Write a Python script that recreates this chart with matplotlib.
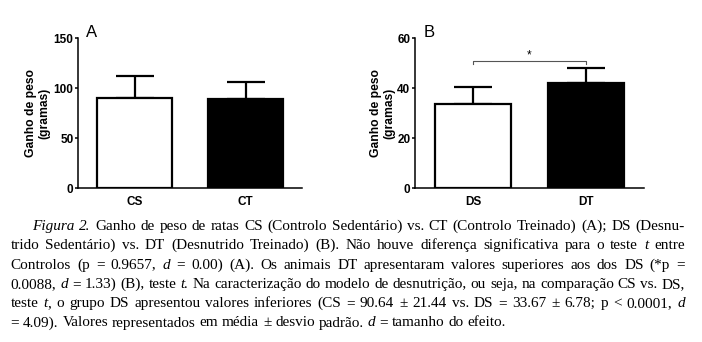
import matplotlib
matplotlib.use('Agg')
import matplotlib.pyplot as plt

W, H = 702, 342
SANS = 'Liberation Sans'
SERIF = 'Liberation Serif'
plt.rcParams['font.family'] = SANS

# data
groups_a = ["CS", "CT"]
mean_a = [90.64, 89.7]
sd_a = [21.44, 16.5]
yticks_a = [0, 50, 100, 150]

groups_b = ["DS", "DT"]
mean_b = [33.67, 42.1]
sd_b = [6.78, 6.2]
yticks_b = [0, 20, 40, 60]
signif_y = 50.9   # bracket level DS vs DT

bar_colors = ["white", "black"]
ylabel = "Ganho de peso\n(gramas)"

# _text_ = italic
caption_lines = [
    "_Figura_ _2._ Ganho de peso de ratas CS (Controlo Sedentário) vs. CT (Controlo Treinado) (A); DS (Desnu-",
    "trido Sedentário) vs. DT (Desnutrido Treinado) (B). Não houve diferença significativa para o teste _t_ entre",
    "Controlos (p = 0.9657, _d_ = 0.00) (A). Os animais DT apresentaram valores superiores aos dos DS (*p =",
    "0.0088, _d_ = 1.33) (B), teste _t._ Na caracterização do modelo de desnutrição, ou seja, na comparação CS vs. DS,",
    "teste _t_, o grupo DS apresentou valores inferiores (CS = 90.64 ± 21.44 vs. DS = 33.67 ± 6.78; p < 0.0001, _d_",
    "= 4.09). Valores representados em média ± desvio padrão. _d_ = tamanho do efeito.",
]

fig = plt.figure(figsize=(W / 100, H / 100), dpi=100)
fig.patch.set_facecolor("white")


def bar_panel(rect, groups, means, sds, yticks, label_x):
    ax = fig.add_axes(rect)
    x = list(range(len(groups)))
    ax.bar(x, means, width=0.68, color=bar_colors, edgecolor="black",
           linewidth=1.6, zorder=2)
    ax.errorbar(x, means, yerr=[[0] * len(sds), sds], fmt="none", ecolor="black",
                elinewidth=1.6, capsize=14, capthick=1.6, zorder=1)
    ax.set_xlim(-0.51, 1.51)
    ax.set_ylim(0, yticks[-1])
    ax.spines[["top", "right"]].set_visible(False)
    for s in ("left", "bottom"):
        ax.spines[s].set_linewidth(1.1)
    ax.set_yticks(yticks, [str(v) for v in yticks], fontweight="bold", fontsize=8.5)
    ax.set_xticks(x, groups, fontweight="bold", fontsize=8.5)
    ax.tick_params(axis="y", length=2.5, width=1.1, pad=1)
    ax.tick_params(axis="x", length=0, pad=5.5)
    ax.set_ylabel(ylabel, fontsize=8.7, fontweight="bold", linespacing=1.1)
    ax.yaxis.set_label_coords(label_x, 0.5)
    return ax


axA = bar_panel([78.3 / W, 1 - 188.3 / H, 223.7 / W, 150 / H],
                groups_a, mean_a, sd_a, yticks_a, -0.125)
axB = bar_panel([415.3 / W, 1 - 188.3 / H, 228.4 / W, 150 / H],
                groups_b, mean_b, sd_b, yticks_b, -0.088)

# significance bracket
axB.plot([0, 0, 1, 1], [signif_y - 1.3, signif_y, signif_y, signif_y - 1.3],
         color="#555555", lw=0.8, clip_on=False)
axB.text(0.5, signif_y + 1.2, "*", ha="center", va="baseline", fontsize=8.5)

fig.text(86 / W, 1 - 37 / H, "A", fontsize=12, va="baseline")
fig.text(424 / W, 1 - 37 / H, "B", fontsize=12, va="baseline")

# caption, justified
renderer = fig.canvas.get_renderer()


def parse(word):
    parts = word.split("_")
    return [(p, i % 2 == 1) for i, p in enumerate(parts) if p]


def ink(s, italic, size):
    t = fig.text(0, 0, s, fontsize=size, family=SERIF,
                 style="italic" if italic else "normal")
    w = t.get_window_extent(renderer).width
    t.remove()
    return w


def width(s, italic, size):
    # advance width: pad with n's so side bearings don't count
    return ink("n" + s + "n", italic, size) - ink("nn", italic, size)


def space_w(size):
    return ink("n n", False, size) - ink("nn", False, size)


left, right, indent = 10.5, 685.0, 31.7
base = 10.0
sizes = []
for i, line in enumerate(caption_lines[:-1]):
    words = [parse(w) for w in line.split(" ")]
    nat = sum(width(s, it, base) for wd in words for s, it in wd) + space_w(base) * (len(words) - 1)
    x0 = indent if i == 0 else left
    sizes.append(base * (right - x0) / nat)
size = min(sizes) * 0.995

for i, line in enumerate(caption_lines):
    y = 1 - (230 + 19.3 * i) / H
    x0 = indent if i == 0 else left
    words = [parse(w) for w in line.split(" ")]
    wws = [[width(s, it, size) for s, it in wd] for wd in words]
    total = sum(sum(w) for w in wws)
    if i < len(caption_lines) - 1:
        gap = (right - x0 - total) / (len(words) - 1)
    else:
        gap = space_w(size)
    x = x0
    for wd, ws in zip(words, wws):
        for (s, it), w in zip(wd, ws):
            fig.text(x / W, y, s, fontsize=size, family=SERIF,
                     style="italic" if it else "normal", va="baseline")
            x += w
        x += gap

fig.savefig("out.png", dpi=100)
